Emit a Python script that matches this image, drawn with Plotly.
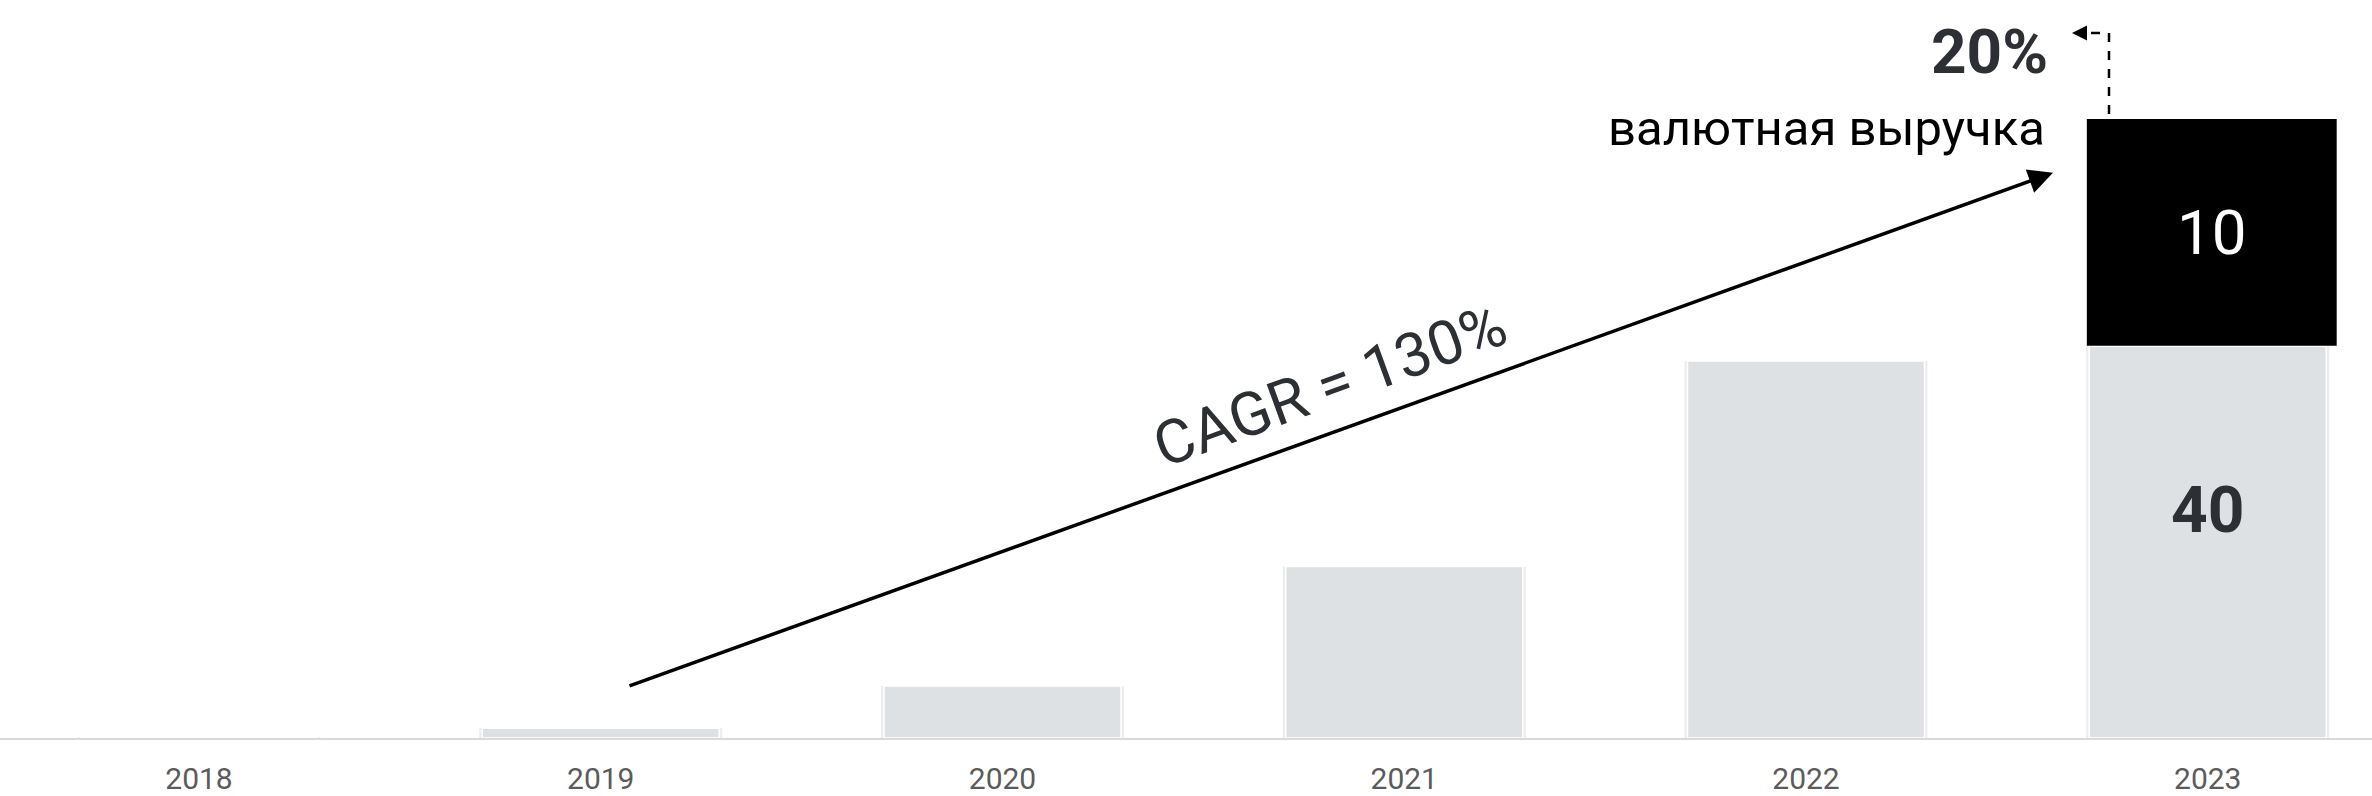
import plotly.graph_objects as go

# ---- data ----
years = ["2018", "2019", "2020", "2021", "2022", "2023"]
base_values = [0.1, 1.0, 5.3, 17.5, 38.5, 40]
fx_year = "2023"
fx_value = 10
fx_base = 40
fx_share_label = "20%"
fx_label = "валютная выручка"
cagr_label = "CAGR = 130%"
cagr_from_y = 5.26
cagr_to_y = 57.7

W, H = 2372, 796
PLOT_H = 738
CAT_PX = 401.75
X0 = -0.4953
px_per_unit = 9.795
px_per_unit2 = 22.67

def xd(px):
    return X0 + px / CAT_PX

def yp(py):
    return 1 - py / PLOT_H

TXT = "#2c2f34"
FONT = "Roboto"
fx_idx = years.index(fx_year)

fig = go.Figure()

# shadow of grey bars
fig.add_trace(go.Bar(
    x=years, y=base_values, width=0.605,
    marker=dict(color="rgba(0,0,0,0.07)", line=dict(width=0)),
    hoverinfo="skip", showlegend=False))
# grey bars
fig.add_trace(go.Bar(
    x=years, y=base_values, width=0.59,
    marker=dict(color="#dee1e4", line=dict(color="white", width=1.5)),
    showlegend=False))
# black exploded currency segment
fig.add_trace(go.Bar(
    x=[fx_year], y=[fx_value], base=[fx_base], yaxis="y2",
    width=0.622, offset=-0.301,
    marker=dict(color="black", line=dict(width=0)),
    text=[str(fx_value)], textposition="inside", insidetextanchor="middle",
    textangle=0, textfont=dict(family=FONT, size=62, color="white"),
    showlegend=False))

lo2 = fx_base - (PLOT_H - 345.7) / px_per_unit2
hi2 = lo2 + PLOT_H / px_per_unit2

fig.update_layout(
    width=W, height=H,
    margin=dict(l=0, r=0, t=0, b=H - PLOT_H, autoexpand=False),
    paper_bgcolor="white", plot_bgcolor="white",
    barmode="overlay", bargap=0.41,
    font=dict(family=FONT, color=TXT),
    xaxis=dict(type="category", range=[X0, X0 + W / CAT_PX], showgrid=False,
               showline=True, linecolor="#d9d9d9", linewidth=2, zeroline=False,
               ticks="", tickfont=dict(family=FONT, size=30, color="#5b5b5b"),
               ticklabelstandoff=13, automargin=False, fixedrange=True),
    yaxis=dict(range=[0, PLOT_H / px_per_unit], visible=False, fixedrange=True),
    yaxis2=dict(range=[lo2, hi2], overlaying="y", visible=False, fixedrange=True),
)

# "40" label on 2023 base bar
fig.add_annotation(x=fx_idx, y=fx_base * 0.58, xref="x", yref="y",
                   text=str(fx_base), showarrow=False,
                   font=dict(family=FONT, size=64, color=TXT, weight="bold"))

# CAGR arrow
fig.add_annotation(x=xd(2053), y=cagr_to_y, xref="x", yref="y",
                   ax=xd(628), ay=cagr_from_y, axref="x", ayref="y",
                   text="", showarrow=True, arrowhead=2, arrowsize=1.4,
                   arrowwidth=3.5, arrowcolor="black")
fig.add_annotation(x=xd(1330), y=yp(385), xref="x", yref="paper",
                   text=cagr_label, showarrow=False, textangle=-20,
                   font=dict(family=FONT, size=61, color=TXT))

# 20% and label
fig.add_annotation(x=2050 / W, y=yp(52), xref="paper", yref="paper",
                   xanchor="right", yanchor="middle", text=fx_share_label,
                   showarrow=False,
                   font=dict(family=FONT, size=62, color=TXT, weight="bold"))
fig.add_annotation(x=2047 / W, y=yp(128), xref="paper", yref="paper",
                   xanchor="right", yanchor="middle", text=fx_label,
                   showarrow=False, font=dict(family=FONT, size=49, color="black"))

# dashed bracket from black bar to 20%
fig.add_shape(type="path", xref="paper", yref="paper",
              path=f"M {2109/W} {yp(114)} L {2109/W} {yp(33)} L {2082/W} {yp(33)}",
              line=dict(color="black", width=2.5, dash="dash"))
fig.add_annotation(x=2072 / W, y=yp(33), xref="paper", yref="paper",
                   ax=14, ay=0, text="", showarrow=True, arrowhead=2,
                   arrowsize=1.2, arrowwidth=2.5, arrowcolor="black")

fig.write_html("out.html")
